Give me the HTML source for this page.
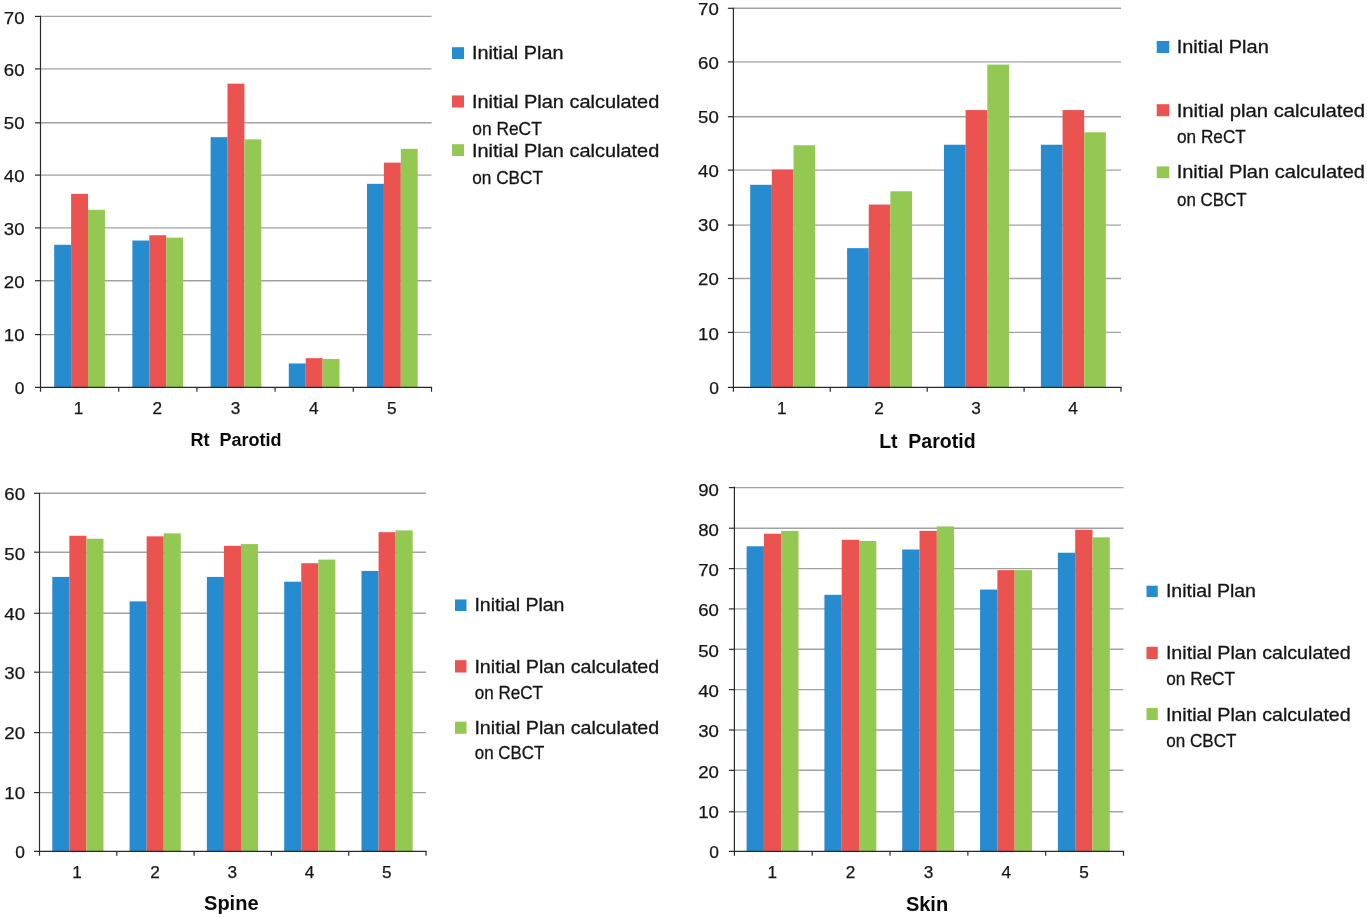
<!DOCTYPE html>
<html lang="en">
<head>
<meta charset="utf-8">
<title>Dose comparison charts</title>
<style>
html,body{margin:0;padding:0;background:#fff;}
body{width:1367px;height:917px;overflow:hidden;}
svg{display:block;will-change:transform;}
text{font-family:"Liberation Sans", Arial, sans-serif;fill:#151515;}
.tk{font-size:17.2px;stroke:#151515;stroke-width:0.25px;}
.ty{font-size:17.4px;stroke:#151515;stroke-width:0.25px;}
.lg{font-size:18.4px;stroke:#151515;stroke-width:0.3px;}
.tt{font-weight:bold;fill:#0a0a0a;}
.g{stroke:#a2a2a2;stroke-width:1.4;}
.a{stroke:#2a2a2a;stroke-width:1.2;}
</style>
</head>
<body>
<svg width="1367" height="917" viewBox="0 0 1367 917">
<rect width="1367" height="917" fill="#ffffff"/>
<g>
<line class="g" x1="40.5" y1="334.6" x2="431.5" y2="334.6"/>
<line class="g" x1="40.5" y1="280.7" x2="431.5" y2="280.7"/>
<line class="g" x1="40.5" y1="227.9" x2="431.5" y2="227.9"/>
<line class="g" x1="40.5" y1="175.1" x2="431.5" y2="175.1"/>
<line class="g" x1="40.5" y1="122.8" x2="431.5" y2="122.8"/>
<line class="g" x1="40.5" y1="68.9" x2="431.5" y2="68.9"/>
<line class="g" x1="40.5" y1="16.4" x2="431.5" y2="16.4"/>
<rect x="54.2" y="244.77" width="16.9" height="142.53" fill="#278BD0"/>
<rect x="71.1" y="193.9" width="16.9" height="193.4" fill="#EB5351"/>
<rect x="88" y="209.8" width="16.9" height="177.5" fill="#93C852"/>
<rect x="132.4" y="240.53" width="16.9" height="146.77" fill="#278BD0"/>
<rect x="149.3" y="235.23" width="16.9" height="152.07" fill="#EB5351"/>
<rect x="166.2" y="237.62" width="16.9" height="149.68" fill="#93C852"/>
<rect x="210.6" y="137.21" width="16.9" height="250.09" fill="#278BD0"/>
<rect x="227.5" y="83.69" width="16.9" height="303.61" fill="#EB5351"/>
<rect x="244.4" y="139.33" width="16.9" height="247.97" fill="#93C852"/>
<rect x="288.8" y="363.46" width="16.9" height="23.84" fill="#278BD0"/>
<rect x="305.7" y="358.16" width="16.9" height="29.14" fill="#EB5351"/>
<rect x="322.6" y="358.95" width="16.9" height="28.35" fill="#93C852"/>
<rect x="367" y="183.83" width="16.9" height="203.47" fill="#278BD0"/>
<rect x="383.9" y="162.64" width="16.9" height="224.66" fill="#EB5351"/>
<rect x="400.8" y="148.86" width="16.9" height="238.44" fill="#93C852"/>
<line class="a" x1="40.5" y1="15.8" x2="40.5" y2="391.8"/>
<line class="a" x1="35" y1="387.3" x2="432.1" y2="387.3"/>
<line class="a" x1="35" y1="334.6" x2="40.5" y2="334.6"/>
<line class="a" x1="35" y1="280.7" x2="40.5" y2="280.7"/>
<line class="a" x1="35" y1="227.9" x2="40.5" y2="227.9"/>
<line class="a" x1="35" y1="175.1" x2="40.5" y2="175.1"/>
<line class="a" x1="35" y1="122.8" x2="40.5" y2="122.8"/>
<line class="a" x1="35" y1="68.9" x2="40.5" y2="68.9"/>
<line class="a" x1="35" y1="16.4" x2="40.5" y2="16.4"/>
<line class="a" x1="118.7" y1="387.3" x2="118.7" y2="391.8"/>
<line class="a" x1="196.9" y1="387.3" x2="196.9" y2="391.8"/>
<line class="a" x1="275.1" y1="387.3" x2="275.1" y2="391.8"/>
<line class="a" x1="353.3" y1="387.3" x2="353.3" y2="391.8"/>
<line class="a" x1="431.5" y1="387.3" x2="431.5" y2="391.8"/>
<text class="ty" text-anchor="end" x="24.5" y="393.8">0</text>
<text class="ty" text-anchor="end" x="24.5" y="340.9" textLength="20.7" lengthAdjust="spacingAndGlyphs">10</text>
<text class="ty" text-anchor="end" x="24.5" y="288" textLength="20.7" lengthAdjust="spacingAndGlyphs">20</text>
<text class="ty" text-anchor="end" x="24.5" y="235.1" textLength="20.7" lengthAdjust="spacingAndGlyphs">30</text>
<text class="ty" text-anchor="end" x="24.5" y="182.2" textLength="20.7" lengthAdjust="spacingAndGlyphs">40</text>
<text class="ty" text-anchor="end" x="24.5" y="129.3" textLength="20.7" lengthAdjust="spacingAndGlyphs">50</text>
<text class="ty" text-anchor="end" x="24.5" y="76.4" textLength="20.7" lengthAdjust="spacingAndGlyphs">60</text>
<text class="ty" text-anchor="end" x="24.5" y="23.5" textLength="20.7" lengthAdjust="spacingAndGlyphs">70</text>
<text class="tk" text-anchor="middle" x="78.6" y="414.3">1</text>
<text class="tk" text-anchor="middle" x="157.3" y="414.3">2</text>
<text class="tk" text-anchor="middle" x="235.5" y="414.3">3</text>
<text class="tk" text-anchor="middle" x="313.7" y="414.3">4</text>
<text class="tk" text-anchor="middle" x="391.9" y="414.3">5</text>
<text class="tt" style="font-size:18px" text-anchor="middle" x="236" y="446.3">Rt  Parotid</text>
<rect x="452" y="47.2" width="12" height="11.8" fill="#278BD0"/>
<text class="lg" x="471.9" y="59.45" textLength="91.6" lengthAdjust="spacingAndGlyphs">Initial Plan</text>
<rect x="452" y="95.45" width="12" height="12.05" fill="#EB5351"/>
<text class="lg" x="471.9" y="108.2" textLength="187.35" lengthAdjust="spacingAndGlyphs">Initial Plan calculated</text>
<text class="lg" x="472.3" y="135.2" textLength="69.45" lengthAdjust="spacingAndGlyphs">on ReCT</text>
<rect x="452" y="144.2" width="12" height="11.8" fill="#93C852"/>
<text class="lg" x="471.9" y="156.95" textLength="187.35" lengthAdjust="spacingAndGlyphs">Initial Plan calculated</text>
<text class="lg" x="472.3" y="183.95" textLength="70.7" lengthAdjust="spacingAndGlyphs">on CBCT</text>
</g>
<g>
<line class="g" x1="733.4" y1="332.4" x2="1121" y2="332.4"/>
<line class="g" x1="733.4" y1="278.5" x2="1121" y2="278.5"/>
<line class="g" x1="733.4" y1="225.1" x2="1121" y2="225.1"/>
<line class="g" x1="733.4" y1="170.1" x2="1121" y2="170.1"/>
<line class="g" x1="733.4" y1="116.7" x2="1121" y2="116.7"/>
<line class="g" x1="733.4" y1="61.9" x2="1121" y2="61.9"/>
<line class="g" x1="733.4" y1="8.3" x2="1121" y2="8.3"/>
<rect x="750.2" y="184.81" width="21.65" height="202.49" fill="#278BD0"/>
<rect x="771.85" y="169.65" width="21.65" height="217.65" fill="#EB5351"/>
<rect x="793.5" y="145.28" width="21.65" height="242.02" fill="#93C852"/>
<rect x="847.1" y="248.15" width="21.65" height="139.15" fill="#278BD0"/>
<rect x="868.75" y="204.57" width="21.65" height="182.73" fill="#EB5351"/>
<rect x="890.4" y="191.3" width="21.65" height="196" fill="#93C852"/>
<rect x="944" y="144.74" width="21.65" height="242.56" fill="#278BD0"/>
<rect x="965.65" y="110.09" width="21.65" height="277.21" fill="#EB5351"/>
<rect x="987.3" y="64.61" width="21.65" height="322.69" fill="#93C852"/>
<rect x="1040.9" y="144.74" width="21.65" height="242.56" fill="#278BD0"/>
<rect x="1062.55" y="110.09" width="21.65" height="277.21" fill="#EB5351"/>
<rect x="1084.2" y="132.29" width="21.65" height="255.01" fill="#93C852"/>
<line class="a" x1="733.4" y1="7.7" x2="733.4" y2="391.8"/>
<line class="a" x1="727.9" y1="387.3" x2="1121.6" y2="387.3"/>
<line class="a" x1="727.9" y1="332.4" x2="733.4" y2="332.4"/>
<line class="a" x1="727.9" y1="278.5" x2="733.4" y2="278.5"/>
<line class="a" x1="727.9" y1="225.1" x2="733.4" y2="225.1"/>
<line class="a" x1="727.9" y1="170.1" x2="733.4" y2="170.1"/>
<line class="a" x1="727.9" y1="116.7" x2="733.4" y2="116.7"/>
<line class="a" x1="727.9" y1="61.9" x2="733.4" y2="61.9"/>
<line class="a" x1="727.9" y1="8.3" x2="733.4" y2="8.3"/>
<line class="a" x1="830.3" y1="387.3" x2="830.3" y2="391.8"/>
<line class="a" x1="927.2" y1="387.3" x2="927.2" y2="391.8"/>
<line class="a" x1="1024.1" y1="387.3" x2="1024.1" y2="391.8"/>
<line class="a" x1="1121" y1="387.3" x2="1121" y2="391.8"/>
<text class="ty" text-anchor="end" x="718.8" y="393.6">0</text>
<text class="ty" text-anchor="end" x="718.8" y="339.51" textLength="20.7" lengthAdjust="spacingAndGlyphs">10</text>
<text class="ty" text-anchor="end" x="718.8" y="285.43" textLength="20.7" lengthAdjust="spacingAndGlyphs">20</text>
<text class="ty" text-anchor="end" x="718.8" y="231.34" textLength="20.7" lengthAdjust="spacingAndGlyphs">30</text>
<text class="ty" text-anchor="end" x="718.8" y="177.26" textLength="20.7" lengthAdjust="spacingAndGlyphs">40</text>
<text class="ty" text-anchor="end" x="718.8" y="123.17" textLength="20.7" lengthAdjust="spacingAndGlyphs">50</text>
<text class="ty" text-anchor="end" x="718.8" y="69.09" textLength="20.7" lengthAdjust="spacingAndGlyphs">60</text>
<text class="ty" text-anchor="end" x="718.8" y="15" textLength="20.7" lengthAdjust="spacingAndGlyphs">70</text>
<text class="tk" text-anchor="middle" x="781.75" y="414.3">1</text>
<text class="tk" text-anchor="middle" x="879.15" y="414.3">2</text>
<text class="tk" text-anchor="middle" x="976.05" y="414.3">3</text>
<text class="tk" text-anchor="middle" x="1072.95" y="414.3">4</text>
<text class="tt" style="font-size:19.5px" text-anchor="middle" x="927.35" y="447.5">Lt  Parotid</text>
<rect x="1156.75" y="40.95" width="12.5" height="12.05" fill="#278BD0"/>
<text class="lg" x="1176.65" y="53.45" textLength="92.1" lengthAdjust="spacingAndGlyphs">Initial Plan</text>
<rect x="1156.75" y="104.2" width="12.5" height="12.05" fill="#EB5351"/>
<text class="lg" x="1176.65" y="116.95" textLength="188.35" lengthAdjust="spacingAndGlyphs">Initial plan calculated</text>
<text class="lg" x="1177.05" y="143.45" textLength="68.8" lengthAdjust="spacingAndGlyphs">on ReCT</text>
<rect x="1156.75" y="166.45" width="12.5" height="11.8" fill="#93C852"/>
<text class="lg" x="1176.65" y="178.45" textLength="188.35" lengthAdjust="spacingAndGlyphs">Initial Plan calculated</text>
<text class="lg" x="1177.05" y="205.7" textLength="69.6" lengthAdjust="spacingAndGlyphs">on CBCT</text>
</g>
<g>
<line class="g" x1="39.5" y1="792.6" x2="426" y2="792.6"/>
<line class="g" x1="39.5" y1="732.6" x2="426" y2="732.6"/>
<line class="g" x1="39.5" y1="672.2" x2="426" y2="672.2"/>
<line class="g" x1="39.5" y1="613.3" x2="426" y2="613.3"/>
<line class="g" x1="39.5" y1="552.2" x2="426" y2="552.2"/>
<line class="g" x1="39.5" y1="493.3" x2="426" y2="493.3"/>
<rect x="52.3" y="576.91" width="17.05" height="274.39" fill="#278BD0"/>
<rect x="69.35" y="535.75" width="17.05" height="315.55" fill="#EB5351"/>
<rect x="86.4" y="538.73" width="17.05" height="312.57" fill="#93C852"/>
<rect x="129.6" y="601.37" width="17.05" height="249.93" fill="#278BD0"/>
<rect x="146.65" y="536.35" width="17.05" height="314.95" fill="#EB5351"/>
<rect x="163.7" y="533.37" width="17.05" height="317.93" fill="#93C852"/>
<rect x="206.9" y="576.91" width="17.05" height="274.39" fill="#278BD0"/>
<rect x="223.95" y="545.89" width="17.05" height="305.41" fill="#EB5351"/>
<rect x="241" y="544.1" width="17.05" height="307.2" fill="#93C852"/>
<rect x="284.2" y="581.68" width="17.05" height="269.62" fill="#278BD0"/>
<rect x="301.25" y="563.19" width="17.05" height="288.11" fill="#EB5351"/>
<rect x="318.3" y="559.61" width="17.05" height="291.69" fill="#93C852"/>
<rect x="361.5" y="570.94" width="17.05" height="280.36" fill="#278BD0"/>
<rect x="378.55" y="532.17" width="17.05" height="319.13" fill="#EB5351"/>
<rect x="395.6" y="530.38" width="17.05" height="320.92" fill="#93C852"/>
<line class="a" x1="39.5" y1="492.8" x2="39.5" y2="855.8"/>
<line class="a" x1="34" y1="851.3" x2="426.6" y2="851.3"/>
<line class="a" x1="34" y1="792.6" x2="39.5" y2="792.6"/>
<line class="a" x1="34" y1="732.6" x2="39.5" y2="732.6"/>
<line class="a" x1="34" y1="672.2" x2="39.5" y2="672.2"/>
<line class="a" x1="34" y1="613.3" x2="39.5" y2="613.3"/>
<line class="a" x1="34" y1="552.2" x2="39.5" y2="552.2"/>
<line class="a" x1="34" y1="493.3" x2="39.5" y2="493.3"/>
<line class="a" x1="116.8" y1="851.3" x2="116.8" y2="855.8"/>
<line class="a" x1="194.1" y1="851.3" x2="194.1" y2="855.8"/>
<line class="a" x1="271.4" y1="851.3" x2="271.4" y2="855.8"/>
<line class="a" x1="348.7" y1="851.3" x2="348.7" y2="855.8"/>
<line class="a" x1="426" y1="851.3" x2="426" y2="855.8"/>
<text class="ty" text-anchor="end" x="25" y="858.3">0</text>
<text class="ty" text-anchor="end" x="25" y="798.62" textLength="20.7" lengthAdjust="spacingAndGlyphs">10</text>
<text class="ty" text-anchor="end" x="25" y="738.93" textLength="20.7" lengthAdjust="spacingAndGlyphs">20</text>
<text class="ty" text-anchor="end" x="25" y="679.25" textLength="20.7" lengthAdjust="spacingAndGlyphs">30</text>
<text class="ty" text-anchor="end" x="25" y="619.57" textLength="20.7" lengthAdjust="spacingAndGlyphs">40</text>
<text class="ty" text-anchor="end" x="25" y="559.88" textLength="20.7" lengthAdjust="spacingAndGlyphs">50</text>
<text class="ty" text-anchor="end" x="25" y="500.2" textLength="20.7" lengthAdjust="spacingAndGlyphs">60</text>
<text class="tk" text-anchor="middle" x="77.15" y="878">1</text>
<text class="tk" text-anchor="middle" x="154.95" y="878">2</text>
<text class="tk" text-anchor="middle" x="232.25" y="878">3</text>
<text class="tk" text-anchor="middle" x="309.55" y="878">4</text>
<text class="tk" text-anchor="middle" x="386.85" y="878">5</text>
<text class="tt" style="font-size:20px" text-anchor="middle" x="231.3" y="910.3">Spine</text>
<rect x="455" y="599.45" width="11.5" height="11.55" fill="#278BD0"/>
<text class="lg" x="474.4" y="611.2" textLength="90.1" lengthAdjust="spacingAndGlyphs">Initial Plan</text>
<rect x="455" y="660.2" width="11.5" height="12.3" fill="#EB5351"/>
<text class="lg" x="474.4" y="672.7" textLength="184.85" lengthAdjust="spacingAndGlyphs">Initial Plan calculated</text>
<text class="lg" x="474.8" y="699.45" textLength="68.2" lengthAdjust="spacingAndGlyphs">on ReCT</text>
<rect x="455" y="721.7" width="11.5" height="12.05" fill="#93C852"/>
<text class="lg" x="474.4" y="733.95" textLength="184.85" lengthAdjust="spacingAndGlyphs">Initial Plan calculated</text>
<text class="lg" x="474.8" y="759.45" textLength="69.45" lengthAdjust="spacingAndGlyphs">on CBCT</text>
</g>
<g>
<line class="g" x1="734.4" y1="811.8" x2="1123.5" y2="811.8"/>
<line class="g" x1="734.4" y1="770.3" x2="1123.5" y2="770.3"/>
<line class="g" x1="734.4" y1="730" x2="1123.5" y2="730"/>
<line class="g" x1="734.4" y1="689.6" x2="1123.5" y2="689.6"/>
<line class="g" x1="734.4" y1="649.3" x2="1123.5" y2="649.3"/>
<line class="g" x1="734.4" y1="608.9" x2="1123.5" y2="608.9"/>
<line class="g" x1="734.4" y1="568.6" x2="1123.5" y2="568.6"/>
<line class="g" x1="734.4" y1="528.2" x2="1123.5" y2="528.2"/>
<line class="g" x1="734.4" y1="487.6" x2="1123.5" y2="487.6"/>
<rect x="746.6" y="546.27" width="17.3" height="305.03" fill="#278BD0"/>
<rect x="763.9" y="533.72" width="17.3" height="317.58" fill="#EB5351"/>
<rect x="781.2" y="530.89" width="17.3" height="320.41" fill="#93C852"/>
<rect x="824.42" y="594.81" width="17.3" height="256.49" fill="#278BD0"/>
<rect x="841.72" y="539.79" width="17.3" height="311.51" fill="#EB5351"/>
<rect x="859.02" y="541.01" width="17.3" height="310.29" fill="#93C852"/>
<rect x="902.24" y="549.5" width="17.3" height="301.8" fill="#278BD0"/>
<rect x="919.54" y="530.89" width="17.3" height="320.41" fill="#EB5351"/>
<rect x="936.84" y="526.44" width="17.3" height="324.86" fill="#93C852"/>
<rect x="980.06" y="589.55" width="17.3" height="261.75" fill="#278BD0"/>
<rect x="997.36" y="570.13" width="17.3" height="281.17" fill="#EB5351"/>
<rect x="1014.66" y="570.13" width="17.3" height="281.17" fill="#93C852"/>
<rect x="1057.88" y="552.74" width="17.3" height="298.56" fill="#278BD0"/>
<rect x="1075.18" y="529.68" width="17.3" height="321.62" fill="#EB5351"/>
<rect x="1092.48" y="537.36" width="17.3" height="313.94" fill="#93C852"/>
<line class="a" x1="734.4" y1="486.6" x2="734.4" y2="855.8"/>
<line class="a" x1="728.9" y1="851.3" x2="1124.1" y2="851.3"/>
<line class="a" x1="728.9" y1="811.8" x2="734.4" y2="811.8"/>
<line class="a" x1="728.9" y1="770.3" x2="734.4" y2="770.3"/>
<line class="a" x1="728.9" y1="730" x2="734.4" y2="730"/>
<line class="a" x1="728.9" y1="689.6" x2="734.4" y2="689.6"/>
<line class="a" x1="728.9" y1="649.3" x2="734.4" y2="649.3"/>
<line class="a" x1="728.9" y1="608.9" x2="734.4" y2="608.9"/>
<line class="a" x1="728.9" y1="568.6" x2="734.4" y2="568.6"/>
<line class="a" x1="728.9" y1="528.2" x2="734.4" y2="528.2"/>
<line class="a" x1="728.9" y1="487.6" x2="734.4" y2="487.6"/>
<line class="a" x1="812.22" y1="851.3" x2="812.22" y2="855.8"/>
<line class="a" x1="890.04" y1="851.3" x2="890.04" y2="855.8"/>
<line class="a" x1="967.86" y1="851.3" x2="967.86" y2="855.8"/>
<line class="a" x1="1045.68" y1="851.3" x2="1045.68" y2="855.8"/>
<line class="a" x1="1123.5" y1="851.3" x2="1123.5" y2="855.8"/>
<text class="ty" text-anchor="end" x="718.9" y="858.4">0</text>
<text class="ty" text-anchor="end" x="718.9" y="818.08" textLength="20.7" lengthAdjust="spacingAndGlyphs">10</text>
<text class="ty" text-anchor="end" x="718.9" y="777.76" textLength="20.7" lengthAdjust="spacingAndGlyphs">20</text>
<text class="ty" text-anchor="end" x="718.9" y="737.43" textLength="20.7" lengthAdjust="spacingAndGlyphs">30</text>
<text class="ty" text-anchor="end" x="718.9" y="697.11" textLength="20.7" lengthAdjust="spacingAndGlyphs">40</text>
<text class="ty" text-anchor="end" x="718.9" y="656.79" textLength="20.7" lengthAdjust="spacingAndGlyphs">50</text>
<text class="ty" text-anchor="end" x="718.9" y="616.47" textLength="20.7" lengthAdjust="spacingAndGlyphs">60</text>
<text class="ty" text-anchor="end" x="718.9" y="576.14" textLength="20.7" lengthAdjust="spacingAndGlyphs">70</text>
<text class="ty" text-anchor="end" x="718.9" y="535.82" textLength="20.7" lengthAdjust="spacingAndGlyphs">80</text>
<text class="ty" text-anchor="end" x="718.9" y="495.5" textLength="20.7" lengthAdjust="spacingAndGlyphs">90</text>
<text class="tk" text-anchor="middle" x="772.31" y="878">1</text>
<text class="tk" text-anchor="middle" x="850.63" y="878">2</text>
<text class="tk" text-anchor="middle" x="928.45" y="878">3</text>
<text class="tk" text-anchor="middle" x="1006.27" y="878">4</text>
<text class="tk" text-anchor="middle" x="1084.09" y="878">5</text>
<text class="tt" style="font-size:20px" text-anchor="middle" x="927" y="910.8">Skin</text>
<rect x="1146.5" y="585.7" width="11.25" height="11.3" fill="#278BD0"/>
<text class="lg" x="1165.9" y="597.2" textLength="90.1" lengthAdjust="spacingAndGlyphs">Initial Plan</text>
<rect x="1146.5" y="646.8" width="11.25" height="12.3" fill="#EB5351"/>
<text class="lg" x="1165.9" y="659.45" textLength="184.85" lengthAdjust="spacingAndGlyphs">Initial Plan calculated</text>
<text class="lg" x="1166.3" y="684.8" textLength="68.7" lengthAdjust="spacingAndGlyphs">on ReCT</text>
<rect x="1146.5" y="707.95" width="11.25" height="12.05" fill="#93C852"/>
<text class="lg" x="1165.9" y="720.7" textLength="184.85" lengthAdjust="spacingAndGlyphs">Initial Plan calculated</text>
<text class="lg" x="1166.3" y="747.2" textLength="70.2" lengthAdjust="spacingAndGlyphs">on CBCT</text>
</g>
</svg>
</body>
</html>
